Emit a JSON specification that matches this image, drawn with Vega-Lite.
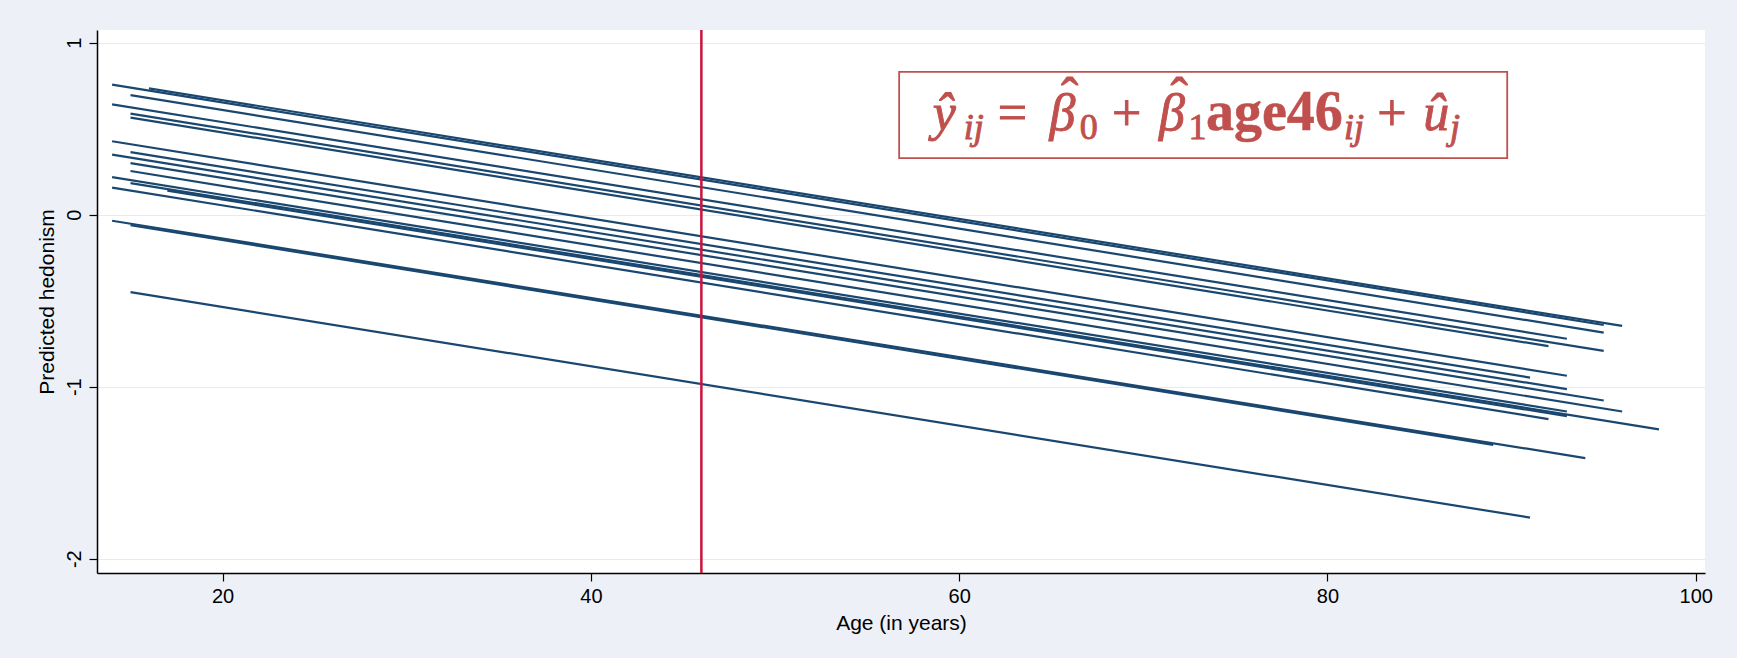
{
  "$schema": "https://vega.github.io/schema/vega-lite/v6.json",
  "width": 1608,
  "height": 543,
  "autosize": {"type": "none"},
  "padding": {"left": 97, "top": 30, "right": 32, "bottom": 85},
  "background": "#edf1f7",
  "config": {
    "view": {"stroke": null, "fill": "white"},
    "font": "Liberation Sans",
    "axis": {
      "domainColor": "black", "domainWidth": 1.5, "tickColor": "black", "tickWidth": 1.2, "tickSize": 8,
      "labelFontSize": 20, "labelColor": "black", "titleFontSize": 21, "titleFontWeight": "normal", "titleColor": "black",
      "labelFont": "Liberation Sans", "titleFont": "Liberation Sans"
    },
    "text": {"font": "Liberation Serif", "color": "#c0504d", "baseline": "alphabetic", "align": "left", "stroke": "#c0504d", "strokeWidth": 0.9}
  },
  "datasets": {
    "lines": [
      {"group": "L1", "age": 14, "yhat": 0.756}, {"group": "L1", "age": 95, "yhat": -0.641},
      {"group": "L2", "age": 16, "yhat": 0.735}, {"group": "L2", "age": 96, "yhat": -0.646},
      {"group": "L3", "age": 15, "yhat": 0.695}, {"group": "L3", "age": 95, "yhat": -0.685},
      {"group": "L4", "age": 14, "yhat": 0.642}, {"group": "L4", "age": 93, "yhat": -0.721},
      {"group": "L5", "age": 15, "yhat": 0.588}, {"group": "L5", "age": 95, "yhat": -0.792},
      {"group": "L6", "age": 15, "yhat": 0.565}, {"group": "L6", "age": 92, "yhat": -0.764},
      {"group": "L7", "age": 14, "yhat": 0.427}, {"group": "L7", "age": 93, "yhat": -0.936},
      {"group": "L8", "age": 15, "yhat": 0.364}, {"group": "L8", "age": 91, "yhat": -0.947},
      {"group": "L9", "age": 14, "yhat": 0.349}, {"group": "L9", "age": 93, "yhat": -1.014},
      {"group": "L10", "age": 15, "yhat": 0.300}, {"group": "L10", "age": 95, "yhat": -1.080},
      {"group": "L11", "age": 15, "yhat": 0.254}, {"group": "L11", "age": 96, "yhat": -1.144},
      {"group": "L12", "age": 14, "yhat": 0.219}, {"group": "L12", "age": 93, "yhat": -1.144},
      {"group": "L13", "age": 15, "yhat": 0.184}, {"group": "L13", "age": 98, "yhat": -1.248},
      {"group": "L14", "age": 17, "yhat": 0.140}, {"group": "L14", "age": 93, "yhat": -1.171},
      {"group": "L15", "age": 14, "yhat": 0.158}, {"group": "L15", "age": 92, "yhat": -1.188},
      {"group": "L16", "age": 14, "yhat": -0.035}, {"group": "L16", "age": 94, "yhat": -1.415},
      {"group": "L17", "age": 15, "yhat": -0.061}, {"group": "L17", "age": 89, "yhat": -1.338},
      {"group": "L18", "age": 15, "yhat": -0.450}, {"group": "L18", "age": 91, "yhat": -1.761}
    ],
    "one": [{"note": "annotation"}]
  },
  "data": {"name": "one"},
  "layer": [
    {
      "data": {"name": "lines"},
      "mark": {"type": "line", "color": "#1a476f", "strokeWidth": 2.2},
      "encoding": {
        "x": {"field": "age", "type": "quantitative",
          "scale": {"domain": [13.18, 100.5], "nice": false, "zero": false},
          "axis": {"title": "Age (in years)", "values": [20, 40, 60, 80, 100], "grid": false, "labelPadding": 5, "titlePadding": 6}},
        "y": {"field": "yhat", "type": "quantitative",
          "scale": {"domain": [-2.083, 1.074], "nice": false, "zero": false},
          "axis": {"title": "Predicted hedonism", "values": [-2, -1, 0, 1], "grid": true, "gridColor": "#e4ebf1", "gridWidth": 1.2,
            "labelExpr": "datum.value + ''",
            "labelAngle": -90, "labelAlign": "center", "labelBaseline": "bottom", "labelPadding": 5, "titlePadding": 7}},
        "detail": {"field": "group"}
      }
    },
    {
      "mark": {"type": "rule", "color": "#c8143c", "strokeWidth": 2.5},
      "encoding": {"x": {"datum": 46}}
    },
    {
      "mark": {"type": "rect", "fill": "white", "stroke": "#c0504d", "strokeWidth": 1.8},
      "encoding": {"x": {"datum": 56.74}, "x2": {"datum": 89.76}, "y": {"datum": 0.831}, "y2": {"datum": 0.329}}
    },
    {"mark": {"type": "text", "text": "ŷ", "fontStyle": "italic", "fontSize": 52}, "encoding": {"x": {"datum": 58.56}, "y": {"datum": 0.495}}},
    {"mark": {"type": "text", "text": "ij", "fontStyle": "italic", "fontSize": 36}, "encoding": {"x": {"datum": 60.25}, "y": {"datum": 0.44}}},
    {"mark": {"type": "text", "text": "=", "fontSize": 52}, "encoding": {"x": {"datum": 62.1}, "y": {"datum": 0.495}}},
    {"mark": {"type": "text", "text": "β", "fontStyle": "italic", "fontSize": 52}, "encoding": {"x": {"datum": 64.9}, "y": {"datum": 0.495}}},
    {"mark": {"type": "text", "text": "ˆ", "fontSize": 52, "align": "center"}, "encoding": {"x": {"datum": 66.0}, "y": {"datum": 0.585}}},
    {"mark": {"type": "text", "text": "0", "fontSize": 36}, "encoding": {"x": {"datum": 66.55}, "y": {"datum": 0.44}}},
    {"mark": {"type": "text", "text": "+", "fontSize": 52}, "encoding": {"x": {"datum": 68.3}, "y": {"datum": 0.495}}},
    {"mark": {"type": "text", "text": "β", "fontStyle": "italic", "fontSize": 52}, "encoding": {"x": {"datum": 70.85}, "y": {"datum": 0.495}}},
    {"mark": {"type": "text", "text": "ˆ", "fontSize": 52, "align": "center"}, "encoding": {"x": {"datum": 71.95}, "y": {"datum": 0.585}}},
    {"mark": {"type": "text", "text": "1", "fontSize": 36}, "encoding": {"x": {"datum": 72.45}, "y": {"datum": 0.44}}},
    {"mark": {"type": "text", "text": "age46", "fontWeight": "bold", "fontSize": 56, "strokeWidth": 0.5}, "encoding": {"x": {"datum": 73.4}, "y": {"datum": 0.495}}},
    {"mark": {"type": "text", "text": "ij", "fontStyle": "italic", "fontSize": 36}, "encoding": {"x": {"datum": 80.9}, "y": {"datum": 0.44}}},
    {"mark": {"type": "text", "text": "+", "fontSize": 52}, "encoding": {"x": {"datum": 82.7}, "y": {"datum": 0.495}}},
    {"mark": {"type": "text", "text": "û", "fontStyle": "italic", "fontSize": 52}, "encoding": {"x": {"datum": 85.2}, "y": {"datum": 0.495}}},
    {"mark": {"type": "text", "text": "j", "fontStyle": "italic", "fontSize": 36}, "encoding": {"x": {"datum": 86.65}, "y": {"datum": 0.44}}}
  ]
}
